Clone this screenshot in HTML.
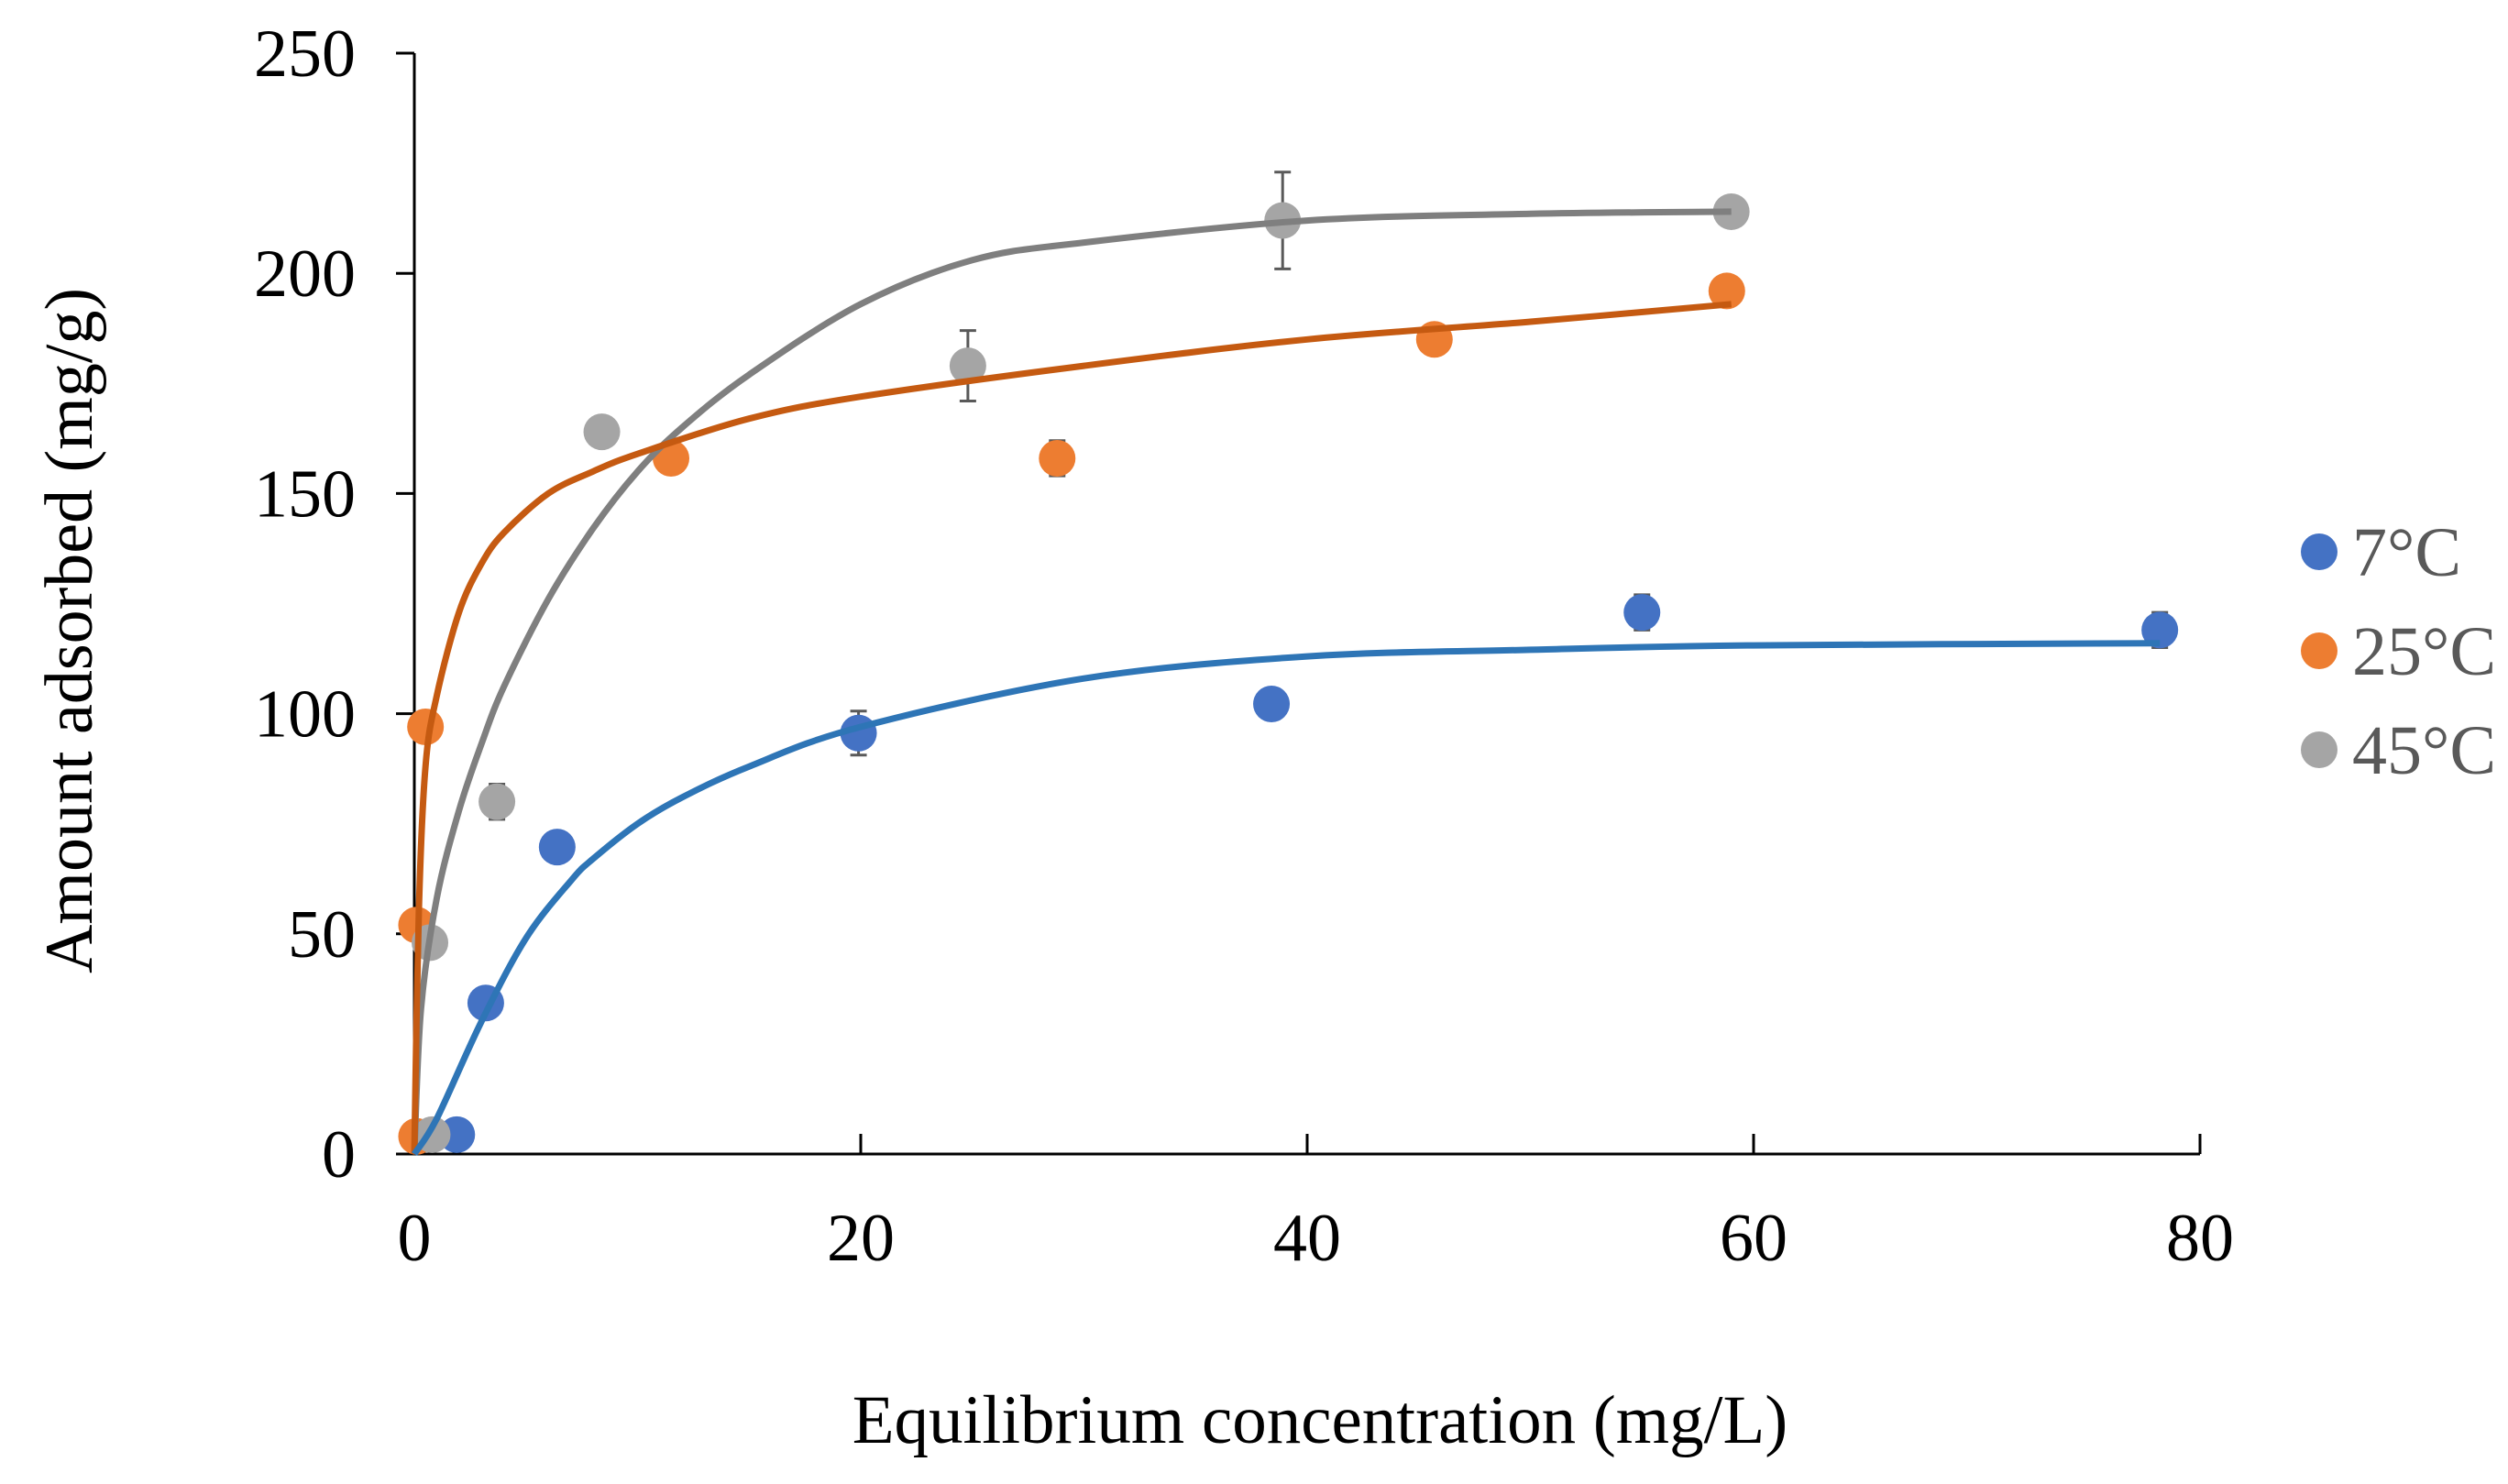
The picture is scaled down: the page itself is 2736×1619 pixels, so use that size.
<!DOCTYPE html>
<html><head><meta charset="utf-8"><style>
html,body{margin:0;padding:0;background:#fff;}
svg{display:block;font-family:"Liberation Serif",serif;}
</style></head><body>
<svg id="chart" width="2736" height="1619" viewBox="0 0 2736 1619"></svg>
<script>
const seriesNames = ["7°C","25°C","45°C"];
const blueX = [1.9,3.2,6.4,19.9,38.4,55,78.2];
const blueY = [4.4,34.3,69.7,95.6,102.2,123,119];
const blueErr = [0,0,0,5,0,4,4];
const orangeX = [0.1,0.1,0.5,11.5,28.8,45.7,58.8];
const orangeY = [4,52,97,158,158,185,196];
const orangeErr = [0,0,0,3,4,0,0];
const grayX = [0.8,0.7,3.7,8.4,24.8,38.9,59];
const grayY = [4.4,48,80,164,179,212,214];
const grayErr = [0,0,4,2,8,11,0];
const blueFitX = [0,1,3,5,7,8,10,12,15,20,30,40,50,60,78.2];
const blueFitY = [0,8,30,49,62,67,75,81,88,97,108,113,114.5,115.5,116];
const orangeFitX = [0,0.2,0.5,1,2,3,4,6,8,10,15,20,30,40,50,59];
const orangeFitY = [0,55,88,104,123,134,141,150,155,159,167,172,179,185,189,193];
const grayFitX = [0,0.3,1,2,3,4,6,8,10,12,15,20,25,30,40,50,59];
const grayFitY = [0,33,58,78,93,106,126,142,155,165,177,193,203,207,212,213.5,214];
const xTicks = [0,20,40,60,80];
const yTicks = [0,50,100,150,200,250];

const X0=452,X1=2400,Y0=1259,Y1=58;
const sx=v=>X0+(X1-X0)*v/80;
const sy=v=>Y0-(Y0-Y1)*v/250;
const svg=document.getElementById('chart');
const NS="http://www.w3.org/2000/svg";
function mk(tag,attrs,parent){const e=document.createElementNS(NS,tag);for(const k in attrs)e.setAttribute(k,attrs[k]);(parent||svg).appendChild(e);return e;}

let a=mk('line',{x1:X0,y1:Y1,x2:X0,y2:Y0,stroke:'#000','stroke-width':3});


a=mk('line',{x1:X0,y1:Y0,x2:X1,y2:Y0,stroke:'#000','stroke-width':3});


yTicks.forEach(v=>{
  const t=mk('line',{x1:X0-20,y1:sy(v),x2:X0,y2:sy(v),stroke:'#000','stroke-width':3});
  
  
  const l=mk('text',{x:388,y:sy(v)+25,'text-anchor':'end','font-size':74,fill:'#000'});
  l.textContent=v;
  
  
});
xTicks.forEach(v=>{
  const t=mk('line',{x1:sx(v),y1:Y0-22,x2:sx(v),y2:Y0,stroke:'#000','stroke-width':3});
  
  
  const l=mk('text',{x:sx(v),y:1375,'text-anchor':'middle','font-size':74,fill:'#000'});
  l.textContent=v;
  
  
});
let tt=mk('text',{x:1440,y:1574,'text-anchor':'middle','font-size':75,fill:'#000'});
tt.textContent='Equilibrium concentration (mg/L)';


tt=mk('text',{x:0,y:0,'text-anchor':'middle','font-size':74,fill:'#000',transform:'translate(100,688) rotate(-90)'});
tt.textContent='Amount adsorbed (mg/g)';



function fit(xs,ys,color,name){
  const P=xs.map((x,i)=>[sx(x),sy(ys[i])]);
  let d='M'+P[0][0].toFixed(1)+','+P[0][1].toFixed(1);
  for(let i=0;i<P.length-1;i++){
    const p0=P[Math.max(0,i-1)],p1=P[i],p2=P[i+1],p3=P[Math.min(P.length-1,i+2)];
    const c1=[p1[0]+(p2[0]-p0[0])/6,p1[1]+(p2[1]-p0[1])/6];
    const c2=[p2[0]-(p3[0]-p1[0])/6,p2[1]-(p3[1]-p1[1])/6];
    d+=` C${c1[0].toFixed(1)},${c1[1].toFixed(1)} ${c2[0].toFixed(1)},${c2[1].toFixed(1)} ${p2[0].toFixed(1)},${p2[1].toFixed(1)}`;
  }
  const p=mk('path',{d:d,fill:'none',stroke:color,'stroke-width':7,'stroke-linejoin':'round'});
  
  
}
function pts(xs,ys,es,color,name){
  xs.forEach((x,i)=>{
    if(es[i]>0){
      const g=mk('path',{d:`M${sx(x)},${sy(ys[i]+es[i])}V${sy(ys[i]-es[i])}M${sx(x)-9},${sy(ys[i]+es[i])}h18M${sx(x)-9},${sy(ys[i]-es[i])}h18`,stroke:'#595959','stroke-width':3,fill:'none'});
      
      
    }
    const c=mk('circle',{cx:sx(x),cy:sy(ys[i]),r:20,fill:color});
    
    
  });
}
pts(blueX,blueY,blueErr,'#4472C4','7c');
pts(orangeX,orangeY,orangeErr,'#ED7D31','25c');
pts(grayX,grayY,grayErr,'#A5A5A5','45c');
fit(grayFitX,grayFitY,'#7F7F7F','45c-fit-curve');
fit(orangeFitX,orangeFitY,'#C55A11','25c-fit-curve');
fit(blueFitX,blueFitY,'#2E75B6','7c-fit-curve');

const legColors=['#4472C4','#ED7D31','#A5A5A5'];
seriesNames.forEach((n,i)=>{
  const y=602+i*108;
  const c=mk('circle',{cx:2530,cy:y,r:20,fill:legColors[i]});
  
  
  const t=mk('text',{x:2566,y:y+26,'font-size':76,fill:'#595959'});
  t.textContent=n;
  
  
});
</script>
</body></html>
